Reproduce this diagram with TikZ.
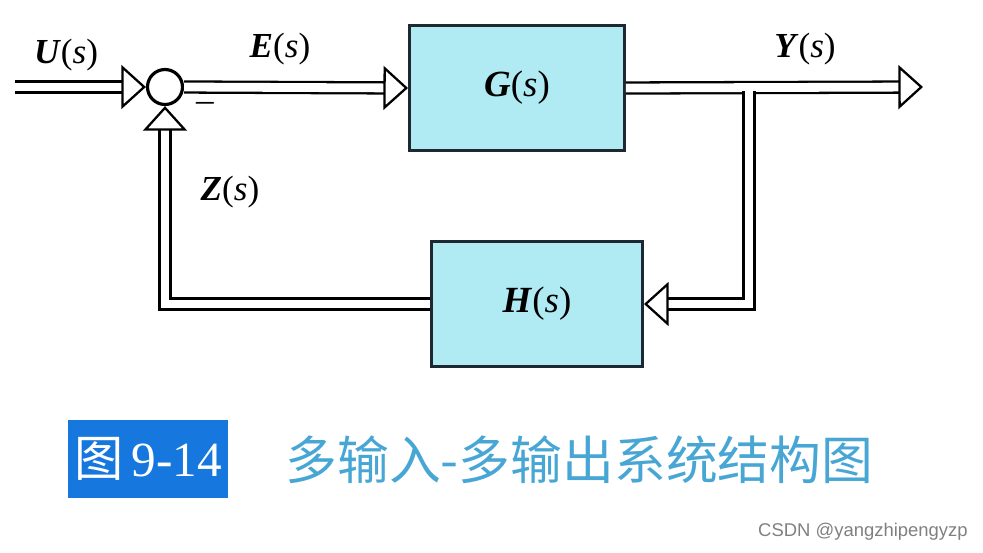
\documentclass[tikz,border=0pt]{standalone}
\usepackage{fontspec}
\setmainfont{Liberation Serif}
\setsansfont{Liberation Sans}
\newfontfamily\cjk{Noto Sans CJK SC}
\usetikzlibrary{arrows.meta}

\definecolor{boxfill}{RGB}{176,234,243}
\definecolor{boxline}{RGB}{30,40,50}
\definecolor{figblue}{RGB}{22,120,222}
\definecolor{capblue}{RGB}{72,166,212}

\newcommand{\lab}[1]{\textbf{\textit{#1}}(\textit{s})}

\begin{document}
\begin{tikzpicture}[x=0.02cm, y=-0.02cm,
		sig/.style={double, double distance=5pt, line width=1.3pt, line join=miter,
			-{Triangle[open, length=14pt, width=25pt, line width=1.3pt]}},
		block/.style={draw=boxline, fill=boxfill, line width=1.7pt,
			minimum width=4.3cm, minimum height=2.5cm, font=\fontsize{21}{24}\selectfont},
		txt/.style={font=\fontsize{20}{23}\selectfont}]
		\useasboundingbox (0, 0) rectangle (983, 552);
		
		% blocks
		\node[circle, draw, line width=1.8pt, minimum size=0.7cm, inner sep=0pt] (sum) at (165, 87) {};
		\node[block] (G) at (517, 88) {\lab{G}};
		\node[block, minimum width=4.22cm] (H) at (537, 304) {\lab{H}};
		
		\coordinate (in) at (15, 87);
		\coordinate (out) at (923, 87);
		\coordinate (branch) at (749, 87);
		
		% forward path
		\draw[sig] (in) -- (sum.west);
		\draw[sig] (sum.east) -- (G.west);
		\draw[sig] (G.east) -- (out);
		
		% feedback path
		\draw[sig] ([yshift=-2.5pt]branch) |- (H.east);
		\draw[sig] (H.west) -| (sum.south);
		
		% signal labels
		\node[txt] (u) at (66, 55) {\lab{U}};
		\node[txt] (e) at (280, 49) {\lab{E}};
		\node[txt] (y) at (805, 49) {\lab{Y}};
		\node[txt] (z) at (230, 192) {\lab{Z}};
		\node[font=\fontsize{20}{23}\selectfont] (minus) at (205, 107) {--};
		
		% caption
		\node[fill=figblue, text=white, minimum width=3.2cm, minimum height=1.56cm,
			inner sep=0pt, font=\fontsize{28}{30}\selectfont] (fig) at (148, 459) {{\cjk 图}\,9-14};
		\node[text=capblue, anchor=west, inner sep=0pt, font=\fontsize{29.5}{32}\selectfont] (cap) at (285, 460)
			{\cjk 多输入-多输出系统结构图};
		\node[text=gray, anchor=east, inner sep=0pt, font=\sffamily\fontsize{10.5}{12}\selectfont] (mark) at (968, 532)
			{CSDN @yangzhipengyzp};
	\end{tikzpicture}
\end{document}
